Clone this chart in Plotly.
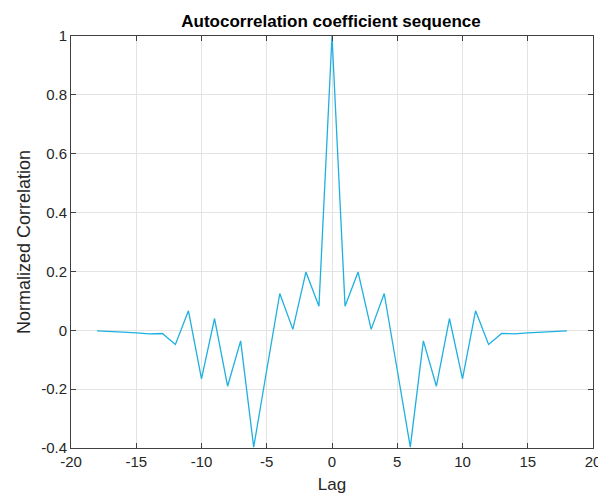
import plotly.graph_objects as go

# Autocorrelation coefficients for lags -18..18 (symmetric about lag 0)
lags = list(range(-18, 19))
half = [1.0, 0.082, 0.198, 0.003, 0.125, -0.135, -0.397, -0.036, -0.19, 0.04,
        -0.165, 0.066, -0.048, -0.011, -0.012, -0.009, -0.006, -0.003, -0.002]
corr = half[:0:-1] + half

x_ticks = [-20, -15, -10, -5, 0, 5, 10, 15, 20]
y_ticks = [-0.4, -0.2, 0, 0.2, 0.4, 0.6, 0.8, 1]

FONT = "Liberation Sans, Arial, sans-serif"

fig = go.Figure()
fig.add_trace(go.Scatter(
    x=lags, y=corr, mode="lines",
    line=dict(color="#1eb0df", width=1.3),
    showlegend=False,
))

axis_common = dict(
    showgrid=True, gridcolor="#e3e3e3", gridwidth=1,
    zeroline=False, showline=True, linecolor="#404040", linewidth=1,
    mirror="ticks", ticks="inside", ticklen=5, tickcolor="#404040",
    tickfont=dict(family=FONT, size=15, color="#262626"),
    ticklabeloverflow="allow", automargin=False,
)

fig.update_layout(
    width=598, height=498,
    margin=dict(l=71, r=5, t=36, b=50),
    paper_bgcolor="white", plot_bgcolor="white",
    title=dict(
        text="<b>Autocorrelation coefficient sequence</b>",
        x=331 / 598, xanchor="center", y=1 - 21 / 498, yanchor="middle",
        font=dict(family=FONT, size=17, color="#000000"),
    ),
    xaxis=dict(
        range=[-20, 20], tickvals=x_ticks,
        ticktext=[("%g" % v) for v in x_ticks],
        title=dict(text="Lag", standoff=9,
                   font=dict(family=FONT, size=17, color="#262626")),
        **axis_common,
    ),
    yaxis=dict(
        range=[-0.4, 1], tickvals=y_ticks,
        ticktext=[("%g" % v) for v in y_ticks],
        title=dict(text="Normalized Correlation", standoff=5,
                   font=dict(family=FONT, size=18, color="#262626")),
        **axis_common,
    ),
)

fig.write_html("out.html")
